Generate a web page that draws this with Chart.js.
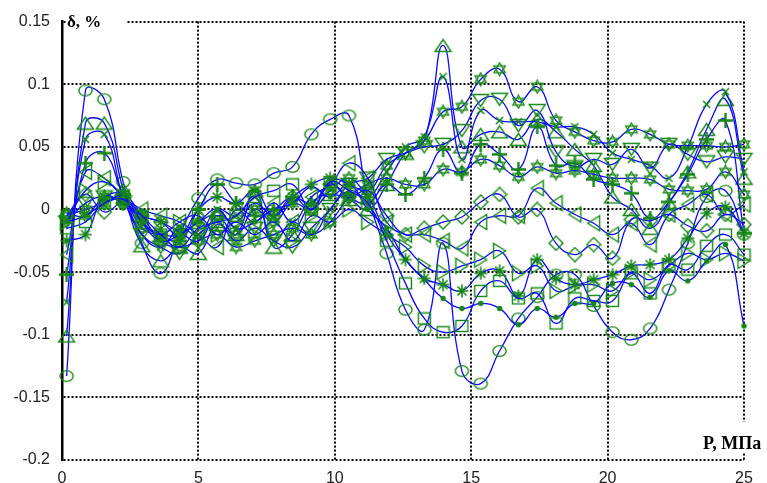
<!DOCTYPE html>
<html>
<head>
<meta charset="utf-8">
<script src="https://cdn.jsdelivr.net/npm/chart.js@4.4.1/dist/chart.umd.min.js"></script>
<style>
html,body{margin:0;padding:0;background:#fff;}
#wrap{width:767px;height:483px;}
</style>
</head>
<body>
<div id="wrap"><canvas id="c" width="767" height="483"></canvas></div>
<script>
// Pressure points, MPa
const pressure = [0.17,0.86,1.55,2.24,2.93,3.62,4.31,5.0,5.69,6.38,7.07,7.76,8.45,9.14,9.83,10.52,11.21,11.9,12.59,13.28,13.97,14.66,15.35,16.04,16.73,17.42,18.11,18.8,19.49,20.18,20.87,21.56,22.25,22.94,23.63,24.32,25.0];

// Relative error series, %
const sCircle   = [-0.133,0.095,0.088,0.022,-0.027,-0.051,-0.02,0.009,0.024,0.021,0.02,0.029,0.034,0.060,0.072,0.075,0.01,-0.035,-0.080,-0.096,-0.027,-0.129,-0.139,-0.113,-0.087,-0.07,-0.052,-0.052,-0.077,-0.098,-0.104,-0.095,-0.064,-0.027,0.010,0.015,-0.02];
const sTriUp    = [-0.101,0.069,0.069,0.016,-0.029,-0.041,-0.03,-0.035,-0.012,-0.02,0.015,-0.03,-0.02,0.005,0.012,0.008,0.0,0.02,0.045,0.055,0.131,0.05,0.06,0.062,0.056,0.072,0.062,0.048,0.035,0.01,0.0,-0.015,0.005,0.03,0.064,0.088,0.025];
const sCrossRot = [-0.074,0.056,0.06,0.01,-0.02,-0.03,-0.015,-0.02,0.0,-0.005,0.01,-0.025,-0.01,-0.02,0.0,0.015,0.01,0.03,0.05,0.058,0.106,0.04,0.079,0.071,0.07,0.07,0.066,0.066,0.06,0.045,0.04,0.035,0.025,0.05,0.084,0.094,0.03];
const sPlus     = [-0.052,0.037,0.045,0.012,-0.01,-0.02,-0.025,0.0,0.02,0.005,-0.005,0.0,0.01,0.005,0.02,0.01,0.005,0.02,0.012,0.025,0.048,0.029,0.052,0.044,0.032,0.066,0.035,0.037,0.024,0.02,0.013,-0.007,0.006,0.028,0.056,0.071,-0.019];
const sStarHi   = [-0.005,0.0,0.005,0.008,-0.015,-0.02,-0.02,-0.01,-0.005,-0.02,0.0,-0.01,0.005,0.0,0.015,0.025,0.015,0.035,0.045,0.055,0.078,0.082,0.104,0.112,0.086,0.098,0.071,0.062,0.055,0.054,0.064,0.060,0.052,0.051,0.051,0.050,0.052];
const sTriDown  = [-0.01,0.005,0.01,0.005,-0.02,-0.03,-0.035,-0.02,-0.01,-0.025,-0.015,-0.025,-0.03,-0.015,0.0,0.02,0.025,0.04,0.045,0.05,0.052,0.063,0.087,0.088,0.067,0.079,0.046,0.034,0.040,0.036,0.048,0.033,0.052,0.044,0.038,0.042,0.040];
const sStarLo   = [-0.003,-0.005,0.01,0.012,-0.005,-0.025,-0.03,-0.025,-0.02,-0.03,-0.025,-0.02,-0.015,-0.02,-0.01,0.01,0.02,0.025,0.02,0.02,0.032,0.03,0.04,0.035,0.026,0.034,0.029,0.031,0.028,0.025,0.025,0.024,0.016,0.015,0.016,0.030,0.012];
const sDiamond  = [-0.005,0.012,-0.002,0.005,-0.005,-0.01,-0.018,-0.025,-0.005,-0.01,0.005,-0.005,0.01,0.0,0.02,0.01,0.015,-0.005,-0.02,-0.015,-0.01,-0.006,0.006,0.012,-0.006,0.0,-0.027,-0.036,-0.028,-0.039,-0.008,-0.009,-0.004,-0.013,-0.017,-0.004,-0.012];
const sTriLeft  = [-0.036,0.030,0.025,0.01,0.0,-0.005,-0.01,-0.02,-0.03,0.0,-0.01,0.005,-0.01,0.01,0.02,0.037,0.025,-0.01,-0.02,-0.02,-0.025,-0.031,-0.01,-0.005,-0.005,0.017,0.005,-0.004,-0.011,-0.02,-0.011,-0.028,-0.004,0.004,0.012,-0.004,0.004];
const sTriRight = [-0.01,0.015,0.022,0.01,-0.01,-0.02,-0.01,-0.005,-0.02,-0.01,-0.02,-0.01,-0.025,-0.005,-0.01,0.0,-0.01,-0.02,-0.03,-0.045,-0.05,-0.045,-0.040,-0.033,-0.051,-0.045,-0.065,-0.061,-0.06,-0.065,-0.05,-0.056,-0.045,-0.035,-0.040,-0.035,-0.041];
const sSquare   = [-0.015,-0.01,0.005,0.008,-0.005,-0.02,-0.03,-0.015,-0.01,-0.005,0.01,0.015,0.02,0.0,0.022,0.015,0.005,-0.025,-0.059,-0.087,-0.098,-0.093,-0.065,-0.057,-0.071,-0.067,-0.091,-0.071,-0.073,-0.073,-0.051,-0.067,-0.044,-0.048,-0.029,-0.020,-0.036];
const sDot      = [-0.01,-0.005,0.005,0.01,-0.01,-0.025,-0.02,-0.01,0.0,-0.015,-0.01,0.0,0.005,0.018,0.01,0.02,0.0,-0.015,-0.040,-0.056,-0.071,-0.079,-0.075,-0.079,-0.092,-0.079,-0.086,-0.075,-0.075,-0.059,-0.060,-0.070,-0.049,-0.057,-0.041,-0.028,-0.093];
const sAsterisk = [-0.025,-0.02,0.01,0.005,-0.005,-0.01,-0.02,0.0,0.01,0.005,0.015,-0.005,0.01,0.02,0.025,0.02,0.01,-0.02,-0.04,-0.055,-0.06,-0.065,-0.051,-0.049,-0.069,-0.040,-0.055,-0.060,-0.056,-0.052,-0.045,-0.044,-0.040,-0.023,-0.003,0.002,-0.019];

const xTickValues = [0,5,10,15,20,25];
const xTickLabels = ['0','5','10','15','20','25'];
const yTickValues = [-0.2,-0.15,-0.1,-0.05,0,0.05,0.1,0.15];
const yTickLabels = ['-0.2','-0.15','-0.1','-0.05','0','0.05','0.1','0.15'];
const yTitle = 'δ, %';
const xTitle = 'P, МПа';

const GREEN = 'rgb(22,135,22)';
const BLUE = 'rgb(10,10,255)';

function mk(w,h,lw,draw){
  const c=document.createElement('canvas'); c.width=w; c.height=h;
  const g=c.getContext('2d'); g.strokeStyle=GREEN; g.fillStyle=GREEN; g.lineWidth=lw;
  draw(g); return c;
}
function poly(g,pts){ g.beginPath(); g.moveTo(pts[0][0],pts[0][1]); for(let i=1;i<pts.length;i++) g.lineTo(pts[i][0],pts[i][1]); g.closePath(); g.stroke(); }
const markers = {
  circle: mk(17,14,1.4,g=>{g.beginPath();g.ellipse(8.5,7,6.6,5.4,0,0,Math.PI*2);g.stroke();}),
  triUp: mk(19,15,1.4,g=>poly(g,[[1.5,13.5],[9.5,1.5],[17.5,13.5]])),
  triDown: mk(19,15,1.4,g=>poly(g,[[1.5,1.5],[9.5,13.5],[17.5,1.5]])),
  triLeft: mk(15,18,1.4,g=>poly(g,[[1.5,9],[13.5,1.5],[13.5,16.5]])),
  triRight: mk(15,18,1.4,g=>poly(g,[[13.5,9],[1.5,1.5],[1.5,16.5]])),
  square: mk(15,14,1.4,g=>{g.strokeRect(1.5,1.5,12,11);}),
  diamond: mk(16,16,1.4,g=>poly(g,[[8,1],[15,8],[8,15],[1,8]])),
  plus: mk(15,15,2.4,g=>{g.beginPath();g.moveTo(7.5,0);g.lineTo(7.5,15);g.moveTo(0,7.5);g.lineTo(15,7.5);g.stroke();}),
  crossRot: mk(9,9,1.6,g=>{g.beginPath();g.moveTo(1,1);g.lineTo(8,8);g.moveTo(8,1);g.lineTo(1,8);g.stroke();}),
  star6: mk(15,15,1.3,g=>{poly(g,[[7.5,1],[13.2,10.8],[1.8,10.8]]);poly(g,[[7.5,14],[13.2,4.2],[1.8,4.2]]);}),
  asterisk: mk(14,14,1.6,g=>{g.beginPath();g.moveTo(7,0.5);g.lineTo(7,13.5);g.moveTo(0.5,7);g.lineTo(13.5,7);g.moveTo(2.5,2.5);g.lineTo(11.5,11.5);g.moveTo(11.5,2.5);g.lineTo(2.5,11.5);g.stroke();}),
  dot: mk(7,7,1,g=>{g.beginPath();g.arc(3.5,3.5,2.7,0,Math.PI*2);g.fill();})
};

const seriesList = [
  [sSquare,'square'],[sDot,'dot'],[sAsterisk,'asterisk'],[sTriRight,'triRight'],
  [sDiamond,'diamond'],[sTriLeft,'triLeft'],[sStarLo,'star6'],[sTriDown,'triDown'],
  [sStarHi,'star6'],[sPlus,'plus'],[sCrossRot,'crossRot'],[sTriUp,'triUp'],[sCircle,'circle']
];

const datasets = seriesList.map(([vals,m])=>({
  data: pressure.map((x,i)=>({x:x,y:vals[i]})),
  borderColor: BLUE, borderWidth: 1.3, tension: 0.45, fill:false,
  pointStyle: markers[m], pointRadius: 6, clip: false
}));

const titlePlugin = {
  id:'titles',
  afterDraw(chart){
    const ctx=chart.ctx, a=chart.chartArea;
    ctx.save();
    ctx.fillStyle='#fff';
    ctx.fillRect(a.left+4, a.top-10, 60, 20);
    ctx.fillRect(a.right-46, a.bottom-38, 70, 30);
    ctx.fillStyle='#000';
    ctx.font='bold 17px "Liberation Serif", "Times New Roman", serif';
    ctx.textBaseline='middle'; ctx.textAlign='left';
    ctx.fillText(yTitle, a.left+5, a.top+1);
    ctx.font='bold 18px "Liberation Serif", "Times New Roman", serif';
    ctx.fillText(xTitle, a.right-41, a.bottom-16);
    ctx.restore();
  }
};

new Chart(document.getElementById('c'),{
  type:'line',
  data:{datasets},
  plugins:[titlePlugin],
  options:{
    responsive:false, animation:false, events:[],
    layout:{padding:{top:19,right:23,left:0,bottom:0}},
    plugins:{legend:{display:false},tooltip:{enabled:false}},
    scales:{
      x:{type:'linear',min:0,max:25,
        afterBuildTicks:s=>{s.ticks=xTickValues.map(v=>({value:v}));},
        afterFit:s=>{s.height=23;},
        grid:{color:'#000', lineWidth:2, drawTicks:false},
        border:{display:false, dash:[2,2]},
        ticks:{padding:9,color:'#222',font:{family:'"Liberation Sans", Arial, sans-serif',size:16},
          callback:(v,i)=>xTickLabels[i]}
      },
      y:{type:'linear',min:-0.2,max:0.15,
        afterBuildTicks:s=>{s.ticks=yTickValues.map(v=>({value:v}));},
        afterFit:s=>{s.width=62;},
        grid:{color:'#000', lineWidth:2, drawTicks:false},
        border:{display:true,color:'#000',width:2.5, dash:[2,2]},
        ticks:{padding:12,color:'#222',font:{family:'"Liberation Sans", Arial, sans-serif',size:16},
          callback:(v,i)=>yTickLabels[i]}
      }
    }
  }
});
</script>
</body>
</html>
